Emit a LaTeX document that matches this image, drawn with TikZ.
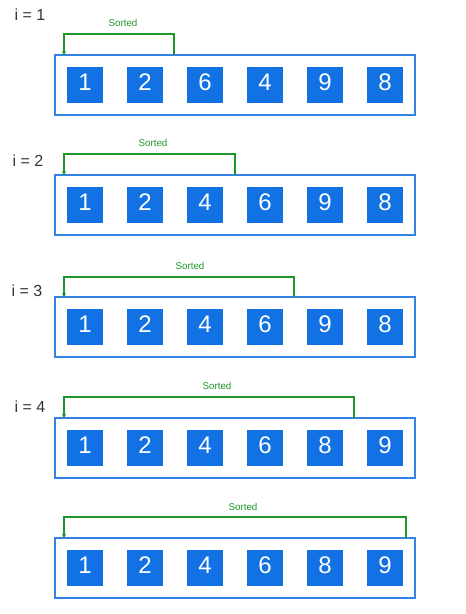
\documentclass[tikz,border=0pt]{standalone}
\usepackage{fontspec}
\setmainfont{Liberation Sans}
\usetikzlibrary{arrows.meta}
\definecolor{sqblue}{RGB}{18,114,228}
\definecolor{boxblue}{RGB}{52,132,230}
\definecolor{sgreen}{RGB}{30,150,40}
\definecolor{lbl}{RGB}{51,51,51}
\begin{document}
\begin{tikzpicture}[x=1pt,y=-1pt,
  arraybox/.style={draw=boxblue,line width=1.8pt,minimum width=360pt,minimum height=60pt,inner sep=0pt},
  cell/.style={fill=sqblue,minimum size=36pt,inner sep=0pt,text=white,text height=17.2pt,text depth=6pt,font=\fontsize{24}{24}\selectfont},
  sortline/.style={draw=sgreen,line width=1.4pt,-{Stealth[length=4pt,width=4pt]}},
  sortlbl/.style={text=sgreen,font=\fontsize{9.8}{10}\selectfont,inner sep=1pt},
  ilbl/.style={text=lbl,font=\fontsize{16}{16}\selectfont,inner sep=1pt}]
\useasboundingbox (0,0) rectangle (466,614);
\foreach \r/\T/\B/\R/\lx/\ly/\ds in {
  1/55/34/174/123/23/{1,2,6,4,9,8},
  2/175/154/235/153/143/{1,2,4,6,9,8},
  3/297/277/294/190/266/{1,2,4,6,9,8},
  4/418/397/354/217/386/{1,2,4,6,8,9},
  5/538/517/406/243/507/{1,2,4,6,8,9}}{
  \node[arraybox] (box\r) at (235,\T+30) {};
  \foreach \d [count=\k] in \ds {
    \node[cell] (c\r-\k) at (25+60*\k,\T+30) {\d};
  }
  \coordinate (st\r) at (\R,\T);
  \coordinate (en\r) at (64,\T);
  \draw[sortline] (st\r) -- ++(0,\B-\T) -| (en\r);
  \node[sortlbl] (sl\r) at (\lx,\ly) {Sorted};
}
\node[ilbl] (i1) at (30,15) {i = 1};
\node[ilbl] (i2) at (28,161) {i = 2};
\node[ilbl] (i3) at (27,291) {i = 3};
\node[ilbl] (i4) at (30,407) {i = 4};
\end{tikzpicture}
\end{document}
